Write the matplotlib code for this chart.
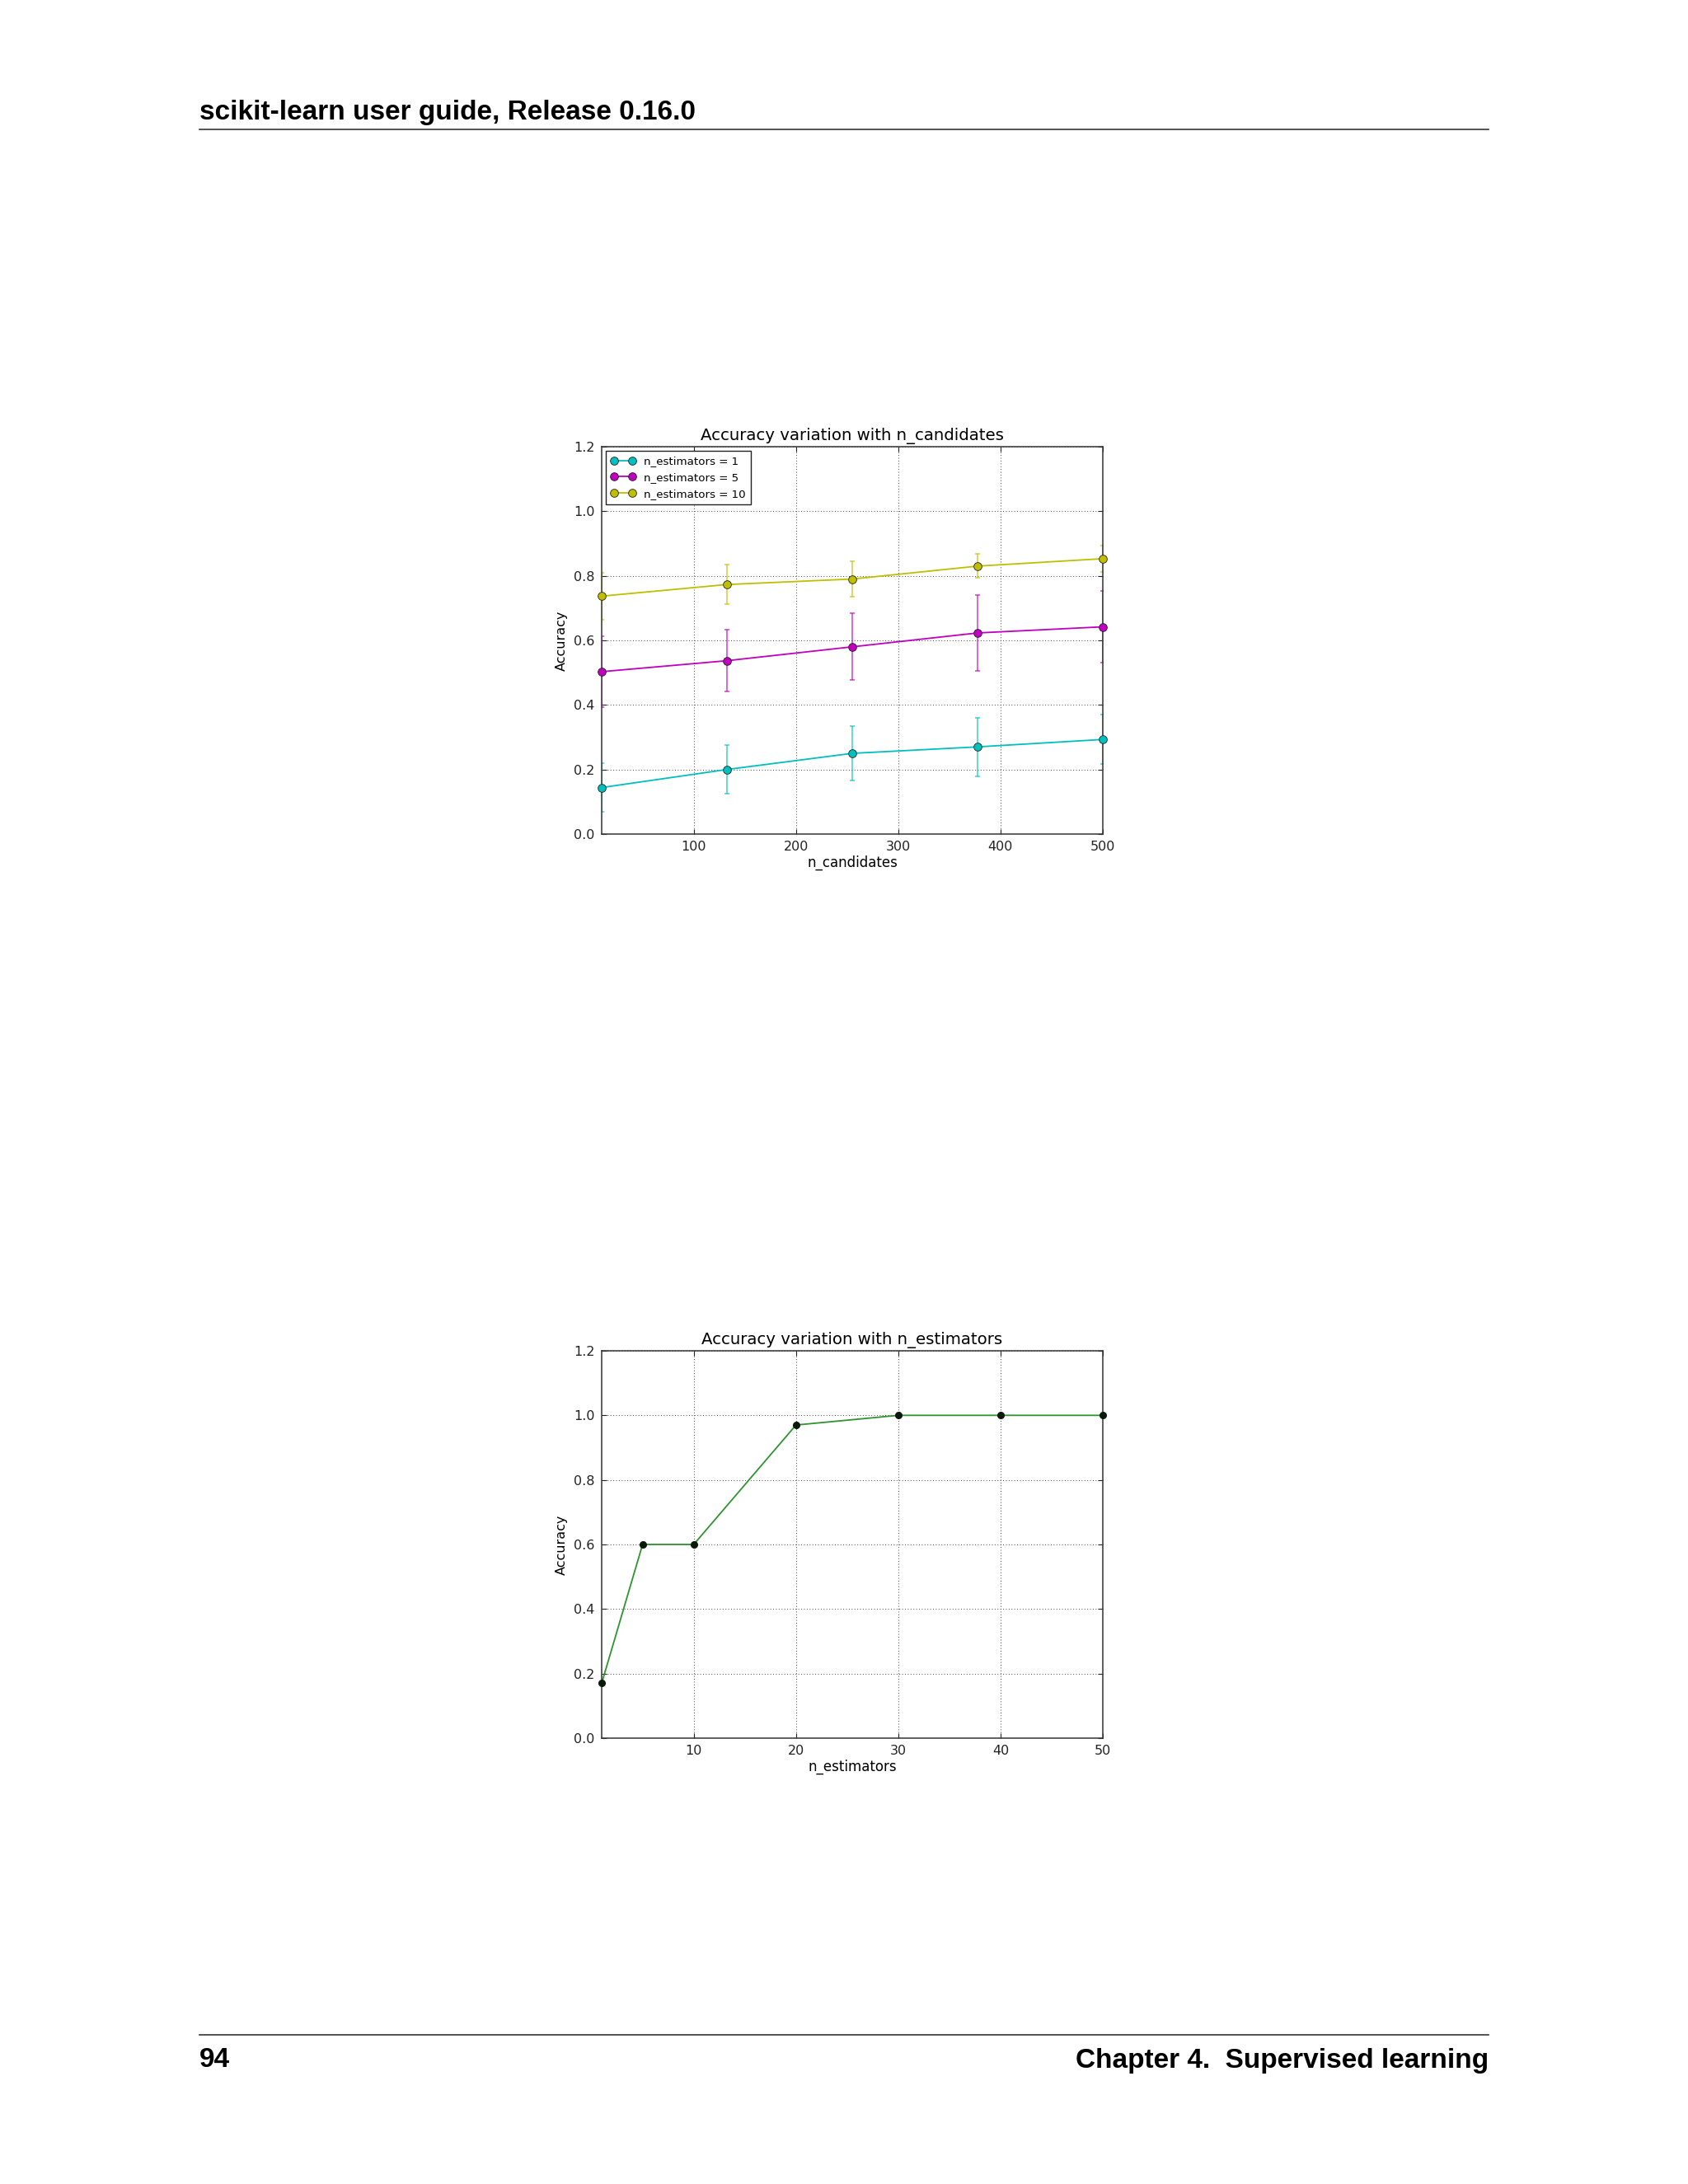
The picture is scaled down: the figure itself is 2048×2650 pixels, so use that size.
import matplotlib
matplotlib.use('Agg')
import matplotlib.pyplot as plt

# data
n_candidates = [10, 132.5, 255, 377.5, 500]
acc_est1 = [0.144, 0.200, 0.250, 0.270, 0.293]
err_est1 = [0.076, 0.075, 0.084, 0.090, 0.077]
acc_est5 = [0.503, 0.537, 0.580, 0.623, 0.642]
err_est5 = [0.110, 0.096, 0.103, 0.118, 0.110]
acc_est10 = [0.737, 0.773, 0.790, 0.830, 0.853]
err_est10 = [0.073, 0.061, 0.055, 0.037, 0.040]
series_labels = ['n_estimators = 1', 'n_estimators = 5', 'n_estimators = 10']
series_colors = ['c', 'm', 'y']

n_estimators = [1, 5, 10, 20, 30, 40, 50]
acc_estimators = [0.17, 0.60, 0.60, 0.97, 1.0, 1.0, 1.0]

W, H = 2048, 2650
fig = plt.figure(figsize=(W / 100, H / 100), dpi=100)
fig.patch.set_facecolor('white')

hdr = ['Liberation Sans', 'DejaVu Sans']


def style_axes(ax):
    ax.grid(True, color='#444444', linestyle=(0, (1, 2.5)), linewidth=0.7)
    ax.tick_params(direction='in', top=True, right=True, labelsize=11.5,
                   length=4, width=0.8, pad=6, colors='#222222')
    for s in ax.spines.values():
        s.set_linewidth(1.1)
        s.set_color('#333333')
    ax.set_ylim(0, 1.2)
    ax.set_yticks([0.0, 0.2, 0.4, 0.6, 0.8, 1.0, 1.2])
    ax.set_ylabel('Accuracy', fontsize=11.5, labelpad=5)


# page header / footer
fig.text(242 / W, 1 - 136 / H, 'scikit-learn user guide, Release 0.16.0',
         family=hdr, fontweight='bold', fontsize=24, va='center', ha='left')
fig.add_artist(plt.Line2D([242 / W, 1806 / W], [1 - 157 / H, 1 - 157 / H],
                          color='#333333', linewidth=1.2))
fig.add_artist(plt.Line2D([242 / W, 1806 / W], [1 - 2469 / H, 1 - 2469 / H],
                          color='#333333', linewidth=1.2))
fig.text(242 / W, 1 - 2500 / H, '94', family=hdr, fontweight='bold',
         fontsize=24, va='center', ha='left')
fig.text(1806 / W, 1 - 2500 / H, 'Chapter 4.  Supervised learning', family=hdr,
         fontweight='bold', fontsize=24, va='center', ha='right')

# top chart
ax1 = fig.add_axes([730 / W, 1 - 1012 / H, 608 / W, 470 / H])
for acc, err, lab, col in zip([acc_est1, acc_est5, acc_est10],
                              [err_est1, err_est5, err_est10],
                              series_labels, series_colors):
    ax1.errorbar(n_candidates, acc, yerr=err, fmt='none', ecolor=col,
                 elinewidth=1.1, capsize=2.5, capthick=1.1, alpha=0.75)
    ax1.plot(n_candidates, acc, 'o-', color=col, label=lab, markersize=7,
             markeredgecolor='#222222', markeredgewidth=0.6, linewidth=1.3,
             clip_on=False, zorder=3)
style_axes(ax1)
ax1.set_xlim(10, 500)
ax1.set_xticks([100, 200, 300, 400, 500])
ax1.set_xlabel('n_candidates', fontsize=12, labelpad=2)
ax1.set_title('Accuracy variation with n_candidates', fontsize=14.2, pad=6)
leg = ax1.legend(loc='upper left', fontsize=9.6, numpoints=2, fancybox=False,
                 framealpha=1, edgecolor='#222222', borderaxespad=0.4,
                 handlelength=2.2, labelspacing=0.5, borderpad=0.45)
leg.get_frame().set_linewidth(1.0)

# bottom chart
ax2 = fig.add_axes([730 / W, 1 - 2109 / H, 608 / W, 470 / H])
ax2.plot(n_estimators, acc_estimators, '-', color='#2f932f', linewidth=1.3)
ax2.plot(n_estimators, acc_estimators, 'o', color='#0a1a0a', markersize=5.5,
         clip_on=False, zorder=3)
style_axes(ax2)
ax2.set_xlim(1, 50)
ax2.set_xticks([10, 20, 30, 40, 50])
ax2.set_xlabel('n_estimators', fontsize=12, labelpad=2)
ax2.set_title('Accuracy variation with n_estimators', fontsize=14.2, pad=6)

fig.savefig('out.png', dpi=100, facecolor='white')
